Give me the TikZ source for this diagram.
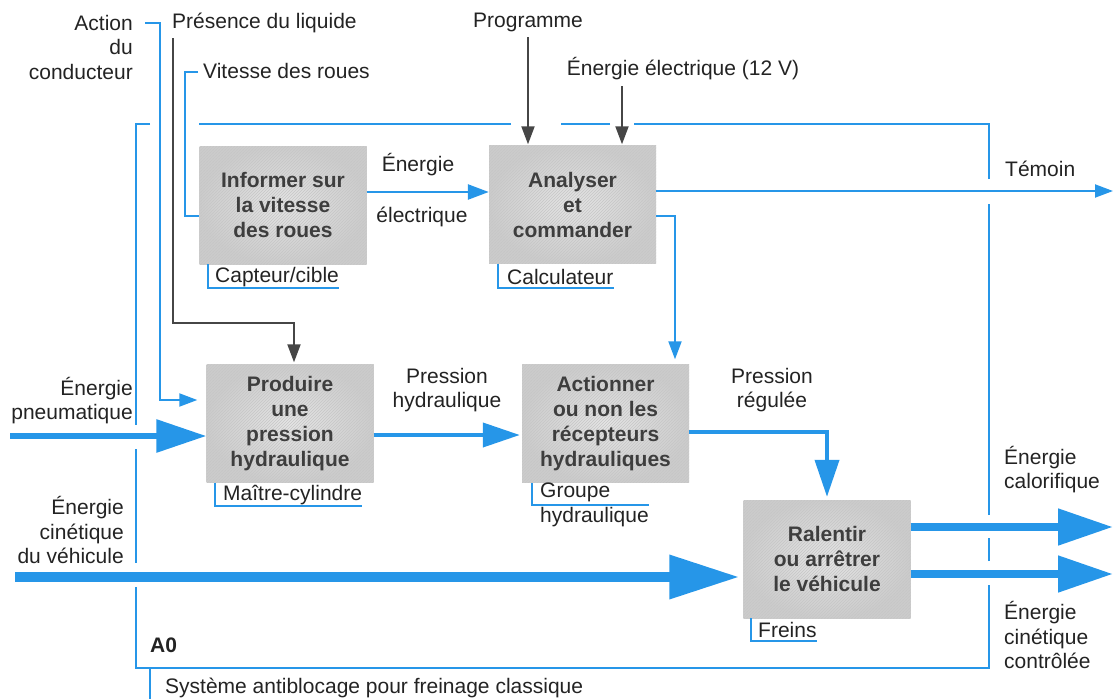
\documentclass[tikz,border=0pt]{standalone}
\usepackage{fontspec}
\setmainfont{Liberation Sans}
\usetikzlibrary{arrows.meta,patterns}
\definecolor{flow}{RGB}{38,150,232}
\definecolor{ctrl}{RGB}{70,70,70}
\definecolor{ink}{RGB}{35,35,35}
\definecolor{boxink}{RGB}{62,62,62}

\begin{document}
\begin{tikzpicture}[x=1pt,y=-1pt,
  txt/.style={inner sep=0pt, text=ink, font=\fontsize{21}{24.5}\selectfont},
  func/.style={minimum width=167pt, minimum height=118pt, inner sep=0pt,
    align=center, text=boxink, font=\bfseries\fontsize{21}{25}\selectfont,
    shade, shading=radial, inner color=gray!20, outer color=gray!40,
    postaction={pattern=north east lines, pattern color=gray!45}},
  frameline/.style={draw=flow, line width=2pt},
  flowthin/.style={draw=flow, line width=2pt, -{Triangle[length=18pt,width=13pt]}},
  flowmid/.style={draw=flow, line width=2.6pt, -{Triangle[length=21pt,width=15pt]}},
  flowmed/.style={draw=flow, line width=4pt, -{Triangle[length=37pt,width=24pt]}},
  flowpneu/.style={draw=flow, line width=6pt, -{Triangle[length=50pt,width=32pt]}},
  flowkin/.style={draw=flow, line width=10pt, -{Triangle[length=70pt,width=42pt]}},
  flowout/.style={draw=flow, line width=8pt, -{Triangle[length=55pt,width=35pt]}},
  ctrlarrow/.style={draw=ctrl, line width=2pt, -{Triangle[length=18pt,width=13pt]}}
]
\useasboundingbox (0,0) rectangle (1114,699);

% functions
\node[func] (b1) at (283,205) {Informer sur\\la vitesse\\des roues};
\node[func] (b2) at (572.5,204.5) {Analyser\\et\\commander};
\node[func] (b3) at (290,423.5) {Produire\\une\\pression\\hydraulique};
\node[func] (b4) at (605.5,423.5) {Actionner\\ou non les\\récepteurs\\hydrauliques};
\node[func] (b5) at (827,559) {Ralentir\\ou arrêtrer\\le véhicule};

% system boundary (A0)
\draw[frameline] (150,124) -- (136,124) -- (136,425);
\draw[frameline] (136,449) -- (136,563);
\draw[frameline] (136,587) -- (136,668) -- (989,668) -- (989,585);
\draw[frameline] (989,561) -- (989,538);
\draw[frameline] (989,515) -- (989,204);
\draw[frameline] (989,179) -- (989,124) -- (634,124);
\draw[frameline] (610,124) -- (561,124);
\draw[frameline] (511,124) -- (199,124);
\draw[frameline] (150,668) -- (150,699);

% texts
\node[txt, anchor=east, align=right] (tact) at (133,47) {Action\\du\\conducteur};
\node[txt, anchor=west] (tliq) at (172,23) {Présence du liquide};
\node[txt, anchor=west] (tvit) at (203,71) {Vitesse des roues};
\node[txt] (tprog) at (528,22) {Programme};
\node[txt] (telec) at (683,69) {Énergie électrique (12 V)};
\node[txt, anchor=east, align=right] (tpneu) at (133,400.5) {Énergie\\pneumatique};
\node[txt, anchor=east, align=right] (tcin) at (124,530) {Énergie\\cinétique\\du véhicule};
\node[txt] (tel1) at (418,165) {Énergie};
\node[txt] (tel2) at (422,217) {électrique};
\node[txt, anchor=west] (ttem) at (1005,169) {Témoin};
\node[txt, align=center] (tph) at (447,390) {Pression\\hydraulique};
\node[txt, align=center] (tpr) at (772,390) {Pression\\régulée};
\node[txt, anchor=west, align=left] (tcal) at (1004,469.5) {Énergie\\calorifique};
\node[txt, anchor=west, align=left] (tcc) at (1004,635) {Énergie\\cinétique\\contrôlée};
\node[txt, anchor=west, font=\bfseries\fontsize{21}{24.5}\selectfont] (ta0) at (150,645) {A0};
\node[txt, anchor=west] (tsys) at (165,688) {Système antiblocage pour freinage classique};

% supports
\node[txt, anchor=west] (mcapt) at (215,277) {Capteur/cible};
\node[txt, anchor=west] (mcalc) at (507,277) {Calculateur};
\node[txt, anchor=west] (mmc) at (223,495) {Maître-cylindre};
\node[txt, anchor=west, align=left] (mgrp) at (540,505) {Groupe\\hydraulique};
\node[txt, anchor=west] (mfr) at (758,630) {Freins};
\draw[frameline] (b1.south -| 208,0) |- (mcapt.east |- 0,288);
\draw[frameline] (b2.south -| 498,0) |- (mcalc.east |- 0,288);
\draw[frameline] (b3.south -| 215,0) |- (mmc.east |- 0,506);
\draw[frameline] (b4.south -| 532,0) |- (mgrp.east |- 0,505);
\draw[frameline] (b5.south -| 751,0) |- (mfr.east |- 0,641);

% free ends
\coordinate (actin) at (145,23);
\coordinate (liqin) at (173,38);
\coordinate (vitin) at (198,72);
\coordinate (pneuin) at (10,436);
\coordinate (cinin) at (15,577);
\coordinate (temout) at (1113,191);
\coordinate (calout) at (1113,527);
\coordinate (cinout) at (1113,574);

% control inputs
\draw[ctrlarrow, shorten >=1pt] (tprog.south |- 0,37) -- (b2.north -| tprog.south);
\draw[ctrlarrow, shorten >=1pt] (telec.south -| 622,0) ++(0,6) -- (b2.north -| 622,0);
\draw[ctrlarrow, shorten >=2pt] (liqin) -- (173,323) -| (b3.north -| 294,0);
\draw[flowthin, shorten >=9pt] (actin) -| (160,400) -- (b3.west |- 0,400);
\draw[frameline] (vitin) -| (185,216) -- (b1.west |- 0,216);

% flows
\draw[flowmid] (b1.east |- 0,192) -- (b2.west |- 0,192);
\draw[flowthin] (b2.east |- 0,191) -- (temout);
\draw[flowthin, shorten >=5pt] (b2.east |- 0,216) -| (b4.north -| 675,0);
\draw[flowpneu] (pneuin) -- (b3.west |- 0,436);
\draw[flowmed, shorten >=2pt] (b3.east |- 0,435) -- (b4.west |- 0,435);
\draw[flowmed, shorten >=3pt] (b4.east |- 0,432) -| (b5.north);
\draw[flowkin, shorten >=4pt] (cinin) -- (b5.west |- 0,577);
\draw[flowout] (b5.east |- 0,527) -- (calout);
\draw[flowout] (b5.east |- 0,574) -- (cinout);
\end{tikzpicture}
\end{document}
